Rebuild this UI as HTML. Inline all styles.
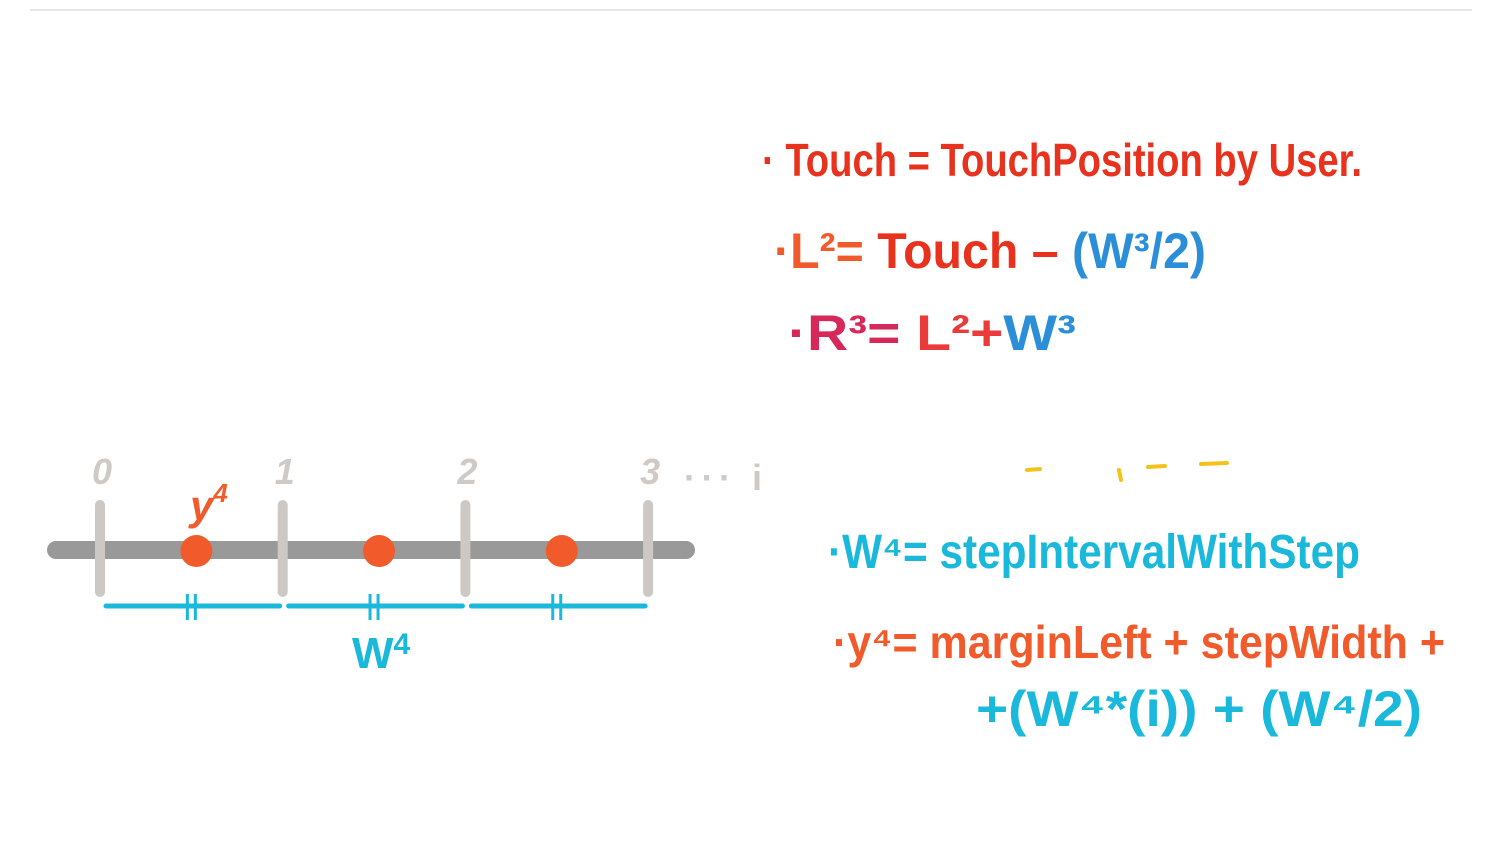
<!DOCTYPE html>
<html><head><meta charset="utf-8"><style>
html,body{margin:0;padding:0;background:#fff;width:1500px;height:866px;overflow:hidden}
svg{display:block}
text{font-family:"Liberation Sans",sans-serif;font-weight:bold}
</style></head><body>
<svg id="s" width="1500" height="866" viewBox="0 0 1500 866">
<line x1="30" y1="10" x2="1472" y2="10" stroke="#e6e6e6" stroke-width="2"/>
<line x1="56" y1="550" x2="686" y2="550" stroke="#999" stroke-width="18" stroke-linecap="round"/>
<g id="marks"></g>
<text x="352" y="668" font-size="44" fill="#1ab8da">W<tspan font-size="30" dy="-14">4</tspan></text>
<text x="190" y="520" font-size="42" fill="#f15a2b" font-style="italic">y<tspan font-size="26" dy="-18">4</tspan></text>
<text x="684" y="490" font-size="36" fill="#cfcac5" textLength="78" lengthAdjust="spacing">··· i</text>

<text x="762" y="176" font-size="46" textLength="600" lengthAdjust="spacingAndGlyphs" fill="#e8321e">· Touch = TouchPosition by User.</text>
<text x="774" y="268" font-size="50" textLength="432" lengthAdjust="spacingAndGlyphs"><tspan fill="#f15a2b">·L²=</tspan><tspan fill="#e8321e"> Touch – </tspan><tspan fill="#2a8fd8">(W³/2)</tspan></text>
<text x="788" y="350" font-size="50" textLength="288" lengthAdjust="spacingAndGlyphs"><tspan fill="#d6295a">·R³= </tspan><tspan fill="#ea3a3a">L²+</tspan><tspan fill="#2a8fd8">W³</tspan></text>
<g stroke="#f5c21b" stroke-width="4" stroke-linecap="round">
<line x1="1027" y1="470" x2="1040" y2="469"/><line x1="1119" y1="470" x2="1121" y2="480"/><line x1="1148" y1="467" x2="1165" y2="466"/><line x1="1201" y1="464" x2="1227" y2="463"/></g>
<text x="828" y="568" font-size="48" textLength="532" lengthAdjust="spacingAndGlyphs" fill="#1ab8da">·W⁴= stepIntervalWithStep</text>
<text x="833" y="658" font-size="46" textLength="612" lengthAdjust="spacingAndGlyphs" fill="#f15a2b">·y⁴= marginLeft + stepWidth +</text>
<text x="976" y="726" font-size="50" textLength="446" lengthAdjust="spacingAndGlyphs" fill="#1ab8da">+(W⁴*(i)) + (W⁴/2)</text>
</svg>
<script>
const stepIndexes=[0,1,2,3];
const stepLabels=["0","1","2","3"];
const dotSteps=[0.5,1.5,2.5];
const x=v=>100+v*182.7;
const g=document.getElementById('marks');
const NS='http://www.w3.org/2000/svg';
function mk(t,a){const e=document.createElementNS(NS,t);for(const k in a)e.setAttribute(k,a[k]);g.appendChild(e);return e;}
stepIndexes.forEach((s,i)=>{
 const t=mk('line',{x1:x(s),y1:505,x2:x(s),y2:592,stroke:'#cdc8c3','stroke-width':10,'stroke-linecap':'round'});
 
 
 const l=mk('text',{x:x(s)-8,y:484,'font-size':36,fill:'#cfcac5','font-style':'italic'});l.textContent=stepLabels[i];
 
 
 if(i<stepIndexes.length-1){
  const c=mk('line',{x1:x(s)+6,y1:606,x2:x(s+1)-3,y2:606,stroke:'#1ab8da','stroke-width':5,'stroke-linecap':'round'});
  
  
  const m=(x(s)+x(s+1))/2;
  [m-4,m+4].forEach(hx=>{const h=mk('line',{x1:hx,y1:594,x2:hx,y2:620,stroke:'#1ab8da','stroke-width':3});
   
   });
 }
});
dotSteps.forEach(d=>{const c=mk('circle',{cx:x(d)+5,cy:551,r:16,fill:'#f15a2b'});
 
 });
</script>
</body></html>
